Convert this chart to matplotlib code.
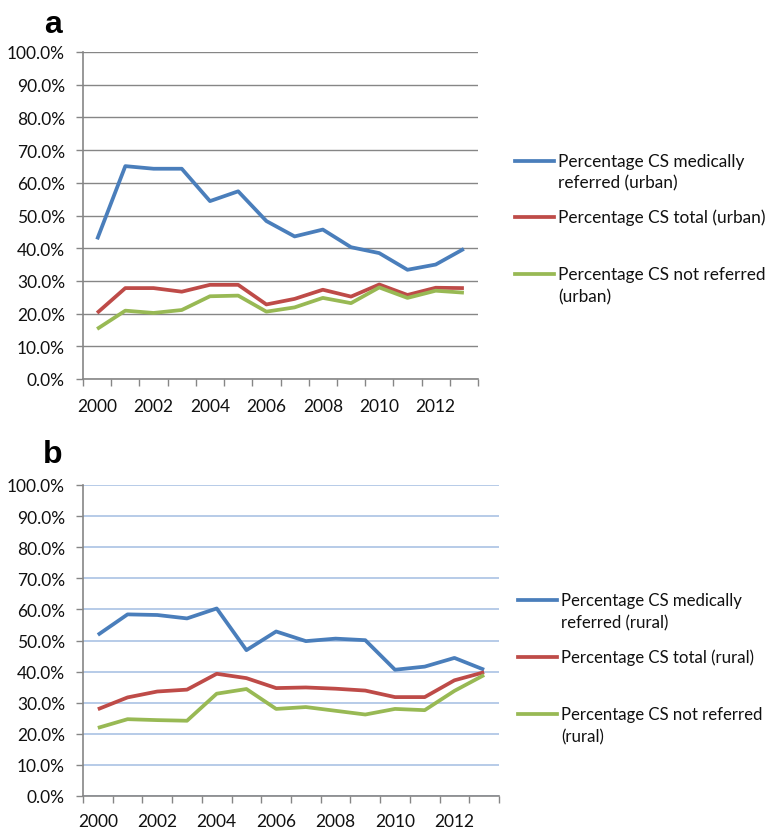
import matplotlib
matplotlib.use("Agg")
import matplotlib.pyplot as plt
from matplotlib.lines import Line2D
from matplotlib.ticker import FuncFormatter

plt.rcParams["font.family"] = ["Lato", "DejaVu Sans"]

years = list(range(2000, 2014))
year_labels = [str(y) for y in years[::2]]

# panel a (urban)
urban_referred = [42.7, 65.1, 64.3, 64.3, 54.4, 57.4, 48.3, 43.6, 45.7, 40.3, 38.5, 33.4, 35.0, 39.8]
urban_total = [20.2, 27.8, 27.8, 26.7, 28.8, 28.8, 22.8, 24.5, 27.3, 25.2, 28.9, 25.7, 27.9, 27.8]
urban_not = [15.3, 20.9, 20.2, 21.1, 25.3, 25.5, 20.6, 21.9, 24.8, 23.2, 28.0, 24.8, 27.0, 26.4]

# panel b (rural)
rural_referred = [51.8, 58.4, 58.2, 57.1, 60.3, 46.9, 52.9, 49.8, 50.6, 50.1, 40.6, 41.6, 44.4, 40.6]
rural_total = [27.9, 31.7, 33.6, 34.2, 39.3, 37.9, 34.7, 34.9, 34.5, 33.9, 31.8, 31.8, 37.2, 39.8]
rural_not = [21.9, 24.7, 24.4, 24.2, 32.9, 34.4, 28.0, 28.6, 27.4, 26.2, 28.0, 27.6, 33.8, 38.9]

labels_a = ["Percentage CS medically\nreferred (urban)", "Percentage CS total (urban)",
            "Percentage CS not referred\n(urban)"]
labels_b = ["Percentage CS medically\nreferred (rural)", "Percentage CS total (rural)",
            "Percentage CS not referred\n(rural)"]

colors = ["#4a7ebb", "#be4b48", "#98b954"]
axis_gray = "#868686"

W, H = 769, 829
fig = plt.figure(figsize=(W / 100, H / 100), dpi=100)


def fx(px):
    return px / W


def fy(py):
    return 1 - py / H


def make_panel(rect, series, grid_color, grid_lw, xpad):
    ax = fig.add_axes(rect)
    x = list(range(len(years)))
    for vals, c in zip(series, colors):
        ax.plot(x, vals, color=c, lw=2.7, solid_capstyle="butt", zorder=3)
    ax.set_xlim(-0.5, len(years) - 0.5)
    ax.set_ylim(0, 100)
    ax.set_yticks(range(0, 101, 10))
    ax.yaxis.set_major_formatter(FuncFormatter(lambda v, p: f"{v:.1f}%"))
    ax.set_xticks([i - 0.5 for i in range(len(years) + 1)])
    ax.set_xticklabels([])
    ax.set_xticks(x[::2], minor=True)
    ax.set_xticklabels(year_labels, minor=True)
    ax.tick_params(axis="x", which="major", length=5, width=1, color=axis_gray, direction="out")
    ax.tick_params(axis="x", which="minor", length=0, pad=xpad, labelsize=12.5, labelcolor="#111111")
    ax.tick_params(axis="y", length=5, width=1, color=axis_gray, pad=8, labelsize=12.5,
                   labelcolor="#111111")
    for s in ["top", "right"]:
        ax.spines[s].set_visible(False)
    for s in ["left", "bottom"]:
        ax.spines[s].set_color(axis_gray)
        ax.spines[s].set_linewidth(1.2)
    ax.grid(axis="y", color=grid_color, lw=grid_lw, zorder=0)
    ax.set_axisbelow(True)
    return ax


ax_a = make_panel([fx(83), fy(380), fx(478 - 83), (380 - 53) / H],
                  [urban_referred, urban_total, urban_not], axis_gray, 1.0, 14)
ax_b = make_panel([fx(83), fy(797), fx(499 - 83), (797 - 486) / H],
                  [rural_referred, rural_total, rural_not], "#b7cbe8", 1.4, 12)
ax_b.spines["bottom"].set_zorder(4)


def draw_legend(x0, x1, ys, line2_dy, labels, size):
    for yy, c, lab in zip(ys, colors, labels):
        fig.add_artist(Line2D([fx(x0), fx(x1)], [fy(yy), fy(yy)], color=c, lw=2.7,
                              transform=fig.transFigure))
        lines = lab.split("\n")
        for k, ln in enumerate(lines):
            fig.text(fx(x1 + 4), fy(yy + k * line2_dy), ln, fontsize=size,
                     va="center", ha="left", color="#111111")


draw_legend(515, 554, [161.5, 218, 275], 22, labels_a, 12.4)
draw_legend(518, 557, [601, 658, 715], 22, labels_b, 12.1)

fig.text(fx(53), fy(33), "a", fontsize=23, fontweight="bold", family="Liberation Sans",
         ha="center", va="baseline")
fig.text(fx(53), fy(463), "b", fontsize=23, fontweight="bold", family="Liberation Sans",
         ha="center", va="baseline")

fig.savefig("out.png", dpi=100)
